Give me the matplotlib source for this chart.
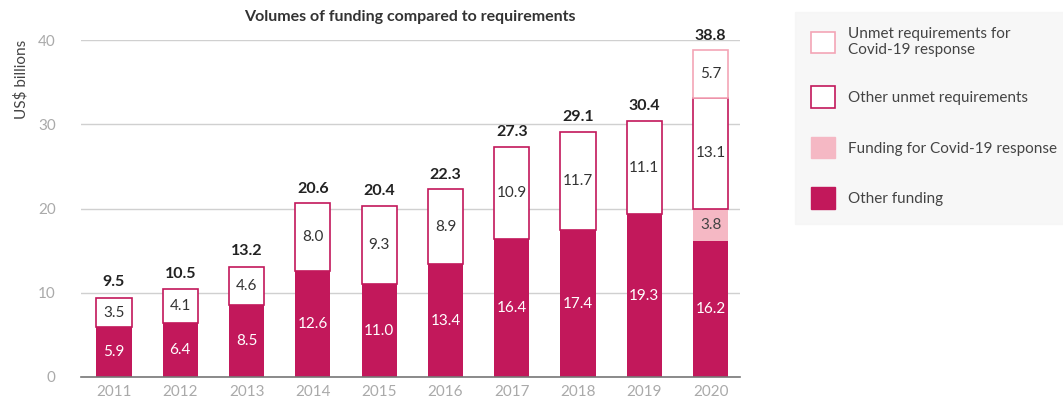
import matplotlib.pyplot as plt
from matplotlib.patches import Patch

plt.rcParams['font.family'] = ['Lato', 'DejaVu Sans']

years = ['2011', '2012', '2013', '2014', '2015', '2016', '2017', '2018', '2019', '2020']
other_funding = [5.9, 6.4, 8.5, 12.6, 11.0, 13.4, 16.4, 17.4, 19.3, 16.2]
covid_funding = [0, 0, 0, 0, 0, 0, 0, 0, 0, 3.8]
other_unmet = [3.5, 4.1, 4.6, 8.0, 9.3, 8.9, 10.9, 11.7, 11.1, 13.1]
covid_unmet = [0, 0, 0, 0, 0, 0, 0, 0, 0, 5.7]
totals = [9.5, 10.5, 13.2, 20.6, 20.4, 22.3, 27.3, 29.1, 30.4, 38.8]

dark = '#c2185b'
pink = '#f5b8c4'
pink_edge = '#f3a5b6'

fig = plt.figure(figsize=(10.63, 4.01), dpi=100)
ax = fig.add_axes([0.076, 0.06, 0.62, 0.84])

x = list(range(len(years)))
w = 0.53

ax.bar(x, other_funding, w, color=dark, zorder=3)
ax.bar(x, covid_funding, w, bottom=other_funding, color=pink, zorder=3)
b2 = [a + b for a, b in zip(other_funding, covid_funding)]
ax.bar(x, other_unmet, w, bottom=b2, facecolor='white', edgecolor=dark, linewidth=1.2, zorder=3)
b3 = [a + b for a, b in zip(b2, other_unmet)]
for i in x:
    if covid_unmet[i] > 0:
        ax.bar(i, covid_unmet[i], w, bottom=b3[i], facecolor='white', edgecolor=pink_edge, linewidth=1.2, zorder=3)

for i in x:
    ax.text(i, other_funding[i] / 2, f'{other_funding[i]:.1f}', ha='center', va='center',
            color='white', fontsize=11, zorder=4)
    if covid_funding[i] > 0:
        ax.text(i, b2[i] - covid_funding[i] / 2, f'{covid_funding[i]:.1f}', ha='center', va='center',
                color='#444444', fontsize=11, zorder=4)
    ax.text(i, b2[i] + other_unmet[i] / 2, f'{other_unmet[i]:.1f}', ha='center', va='center',
            color='#333333', fontsize=11, zorder=4)
    if covid_unmet[i] > 0:
        ax.text(i, b3[i] + covid_unmet[i] / 2, f'{covid_unmet[i]:.1f}', ha='center', va='center',
                color='#333333', fontsize=11, zorder=4)
    ax.text(i, totals[i] + 0.9, f'{totals[i]:.1f}', ha='center', va='bottom',
            color='#222222', fontsize=11.5, fontweight='bold', zorder=4, clip_on=False)

ax.set_xlim(-0.5, 9.44)
ax.set_ylim(0, 40)
ax.set_yticks([0, 10, 20, 30, 40])
ax.set_xticks(x)
ax.set_xticklabels(years)
ax.tick_params(axis='both', length=0, labelcolor='#aaaaaa', labelsize=11)
ax.tick_params(axis='y', pad=18)
ax.tick_params(axis='x', pad=6)
ax.grid(axis='y', color='#d0d0d0', linewidth=1, zorder=0)
for s in ['top', 'right', 'left']:
    ax.spines[s].set_visible(False)
ax.spines['bottom'].set_color('#777777')
ax.spines['bottom'].set_linewidth(1.2)
ax.spines['bottom'].set_zorder(5)

ax.set_title('Volumes of funding compared to requirements', fontsize=11.5, fontweight='bold',
             color='#333333', pad=14)
fig.text(0.02, 0.9, 'US$ billions', rotation=90, ha='center', va='top', color='#444444', fontsize=11)

handles = [
    Patch(facecolor='white', edgecolor=pink_edge, linewidth=1.2),
    Patch(facecolor='white', edgecolor=dark, linewidth=1.2),
    Patch(facecolor=pink, edgecolor=pink),
    Patch(facecolor=dark, edgecolor=dark),
]
labels = ['Unmet requirements for\nCovid-19 response', 'Other unmet requirements',
          'Funding for Covid-19 response', 'Other funding']
leg = fig.legend(handles, labels, loc='upper left', bbox_to_anchor=(0.741, 0.99),
                 frameon=True, fontsize=11, handlelength=1.6, handleheight=1.8,
                 labelspacing=1.9, borderpad=1.0, handletextpad=0.85, labelcolor='#444444')
leg.get_frame().set_facecolor('#f5f5f5')
leg.get_frame().set_edgecolor('#f5f5f5')
leg.get_frame().set_boxstyle('square', pad=0)

fig.savefig('out.png', dpi=100)
